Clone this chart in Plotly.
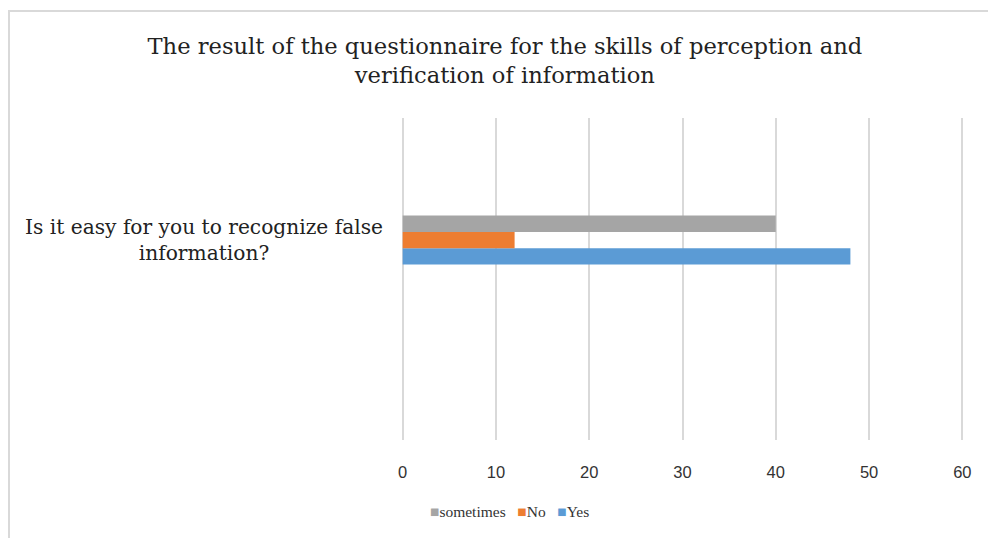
import plotly.graph_objects as go

categories = ["Is it easy for you to recognize false<br>information?"]
series_names = ["Yes", "No", "sometimes"]
series_values = {"Yes": [48], "No": [12], "sometimes": [40]}
series_colors = {"Yes": "#5b9bd5", "No": "#ed7d31", "sometimes": "#a5a5a5"}
x_ticks = [0, 10, 20, 30, 40, 50, 60]

title_text = "The result of the questionnaire for the skills of perception and<br>verification of information"

fig = go.Figure()
for name in series_names:
    fig.add_trace(go.Bar(
        y=[0] * len(categories),
        x=series_values[name],
        name=name,
        orientation="h",
        marker=dict(color=series_colors[name], line=dict(width=0)),
        showlegend=False,
    ))

# plot area geometry (pixels)
W, H = 988, 538
L, R, T, B = 398, 21, 118, 98
pw, ph = W - L - R, H - T - B

def px_x(p):
    return (p - L) / pw

def px_y(p):
    return (H - B - p) / ph

fig.update_layout(
    width=W, height=H,
    margin=dict(l=L, r=R, t=T, b=B, pad=0),
    paper_bgcolor="white", plot_bgcolor="white",
    barmode="group", bargap=0.848,
    title=dict(text=title_text, x=0.511, xanchor="center", y=1 - 54 / H, yanchor="middle",
               font=dict(family="DejaVu Serif", size=22.6, color="#222")),
    xaxis=dict(range=[-0.5, 60.5], tickvals=x_ticks, showgrid=True, gridcolor="#d9d9d9", gridwidth=2,
               zeroline=False, showline=False, ticks="", ticklabelstandoff=20,
               tickfont=dict(family="Liberation Sans", size=16.5, color="#333"), fixedrange=True),
    yaxis=dict(range=[-0.621, 0.379], showticklabels=False, showgrid=False, zeroline=False,
               showline=False, ticks=""),
    showlegend=False,
)

# left category label (centered multi-line)
fig.add_annotation(text=categories[0], xref="paper", yref="y", x=px_x(385), y=0,
                   xanchor="right", yanchor="middle", align="center", showarrow=False,
                   font=dict(family="DejaVu Serif", size=20.2, color="#222"))

# legend (reversed order, compact Excel style)
legend_parts = [f'<span style="color:{series_colors[n]}">■</span>{n}' for n in reversed(series_names)]
fig.add_annotation(text="   ".join(legend_parts), xref="paper", yref="paper",
                   x=px_x(509), y=px_y(511), xanchor="center", yanchor="middle", showarrow=False,
                   font=dict(family="Liberation Serif", size=15.5, color="#333"))

# chart frame (top and left borders)
fig.add_shape(type="line", xref="paper", yref="paper", x0=px_x(9), x1=px_x(W + 5),
              y0=px_y(11), y1=px_y(11), line=dict(color="#d9d9d9", width=2))
fig.add_shape(type="line", xref="paper", yref="paper", x0=px_x(9), x1=px_x(9),
              y0=px_y(10), y1=px_y(H + 5), line=dict(color="#d9d9d9", width=2))

fig.write_html("out.html")
